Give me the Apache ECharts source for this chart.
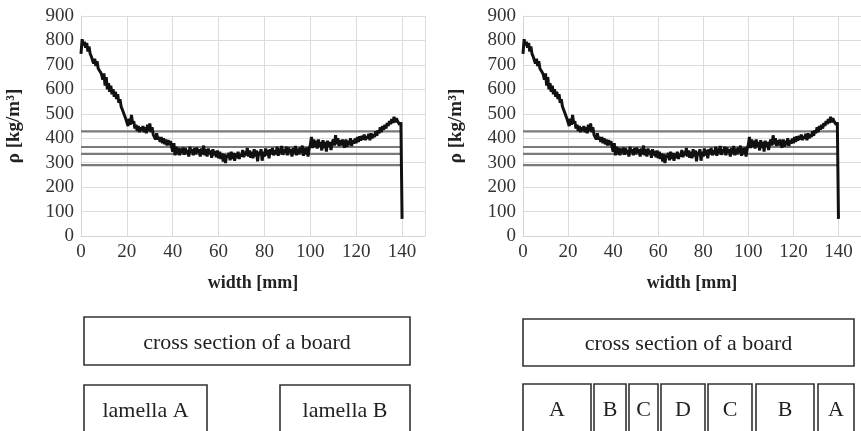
<!DOCTYPE html>
<html>

<head>
	<meta charset="UTF-8" />
	<title>Density profile of a board</title>
	<style>
		html, body { margin: 0; padding: 0; background: #fff; }
		#chart { width: 861px; height: 431px; }
	</style>
	<script type="text/javascript" src="https://cdn.jsdelivr.net/npm/echarts@6/dist/echarts.min.js"></script>
</head>

<body>
	<div id="chart"></div>

	<script>
		// x step of the scan, mm
		var widthStep = 0.5;

		// density along the width, kg/m3, one value every 0.5 mm (0 .. 139.5)
		var density = [
			745, 805, 780, 795, 770, 790, 755, 775, 745, 735,
			730, 705, 725, 695, 715, 685, 690, 670, 660, 640,
			665, 615, 650, 600, 625, 590, 615, 580, 600, 570,
			590, 560, 580, 545, 560, 530, 535, 505, 510, 480,
			465, 450, 480, 455, 495, 460, 470, 440, 455, 430,
			450, 425, 445, 430, 450, 425, 445, 420, 455, 430,
			460, 425, 445, 415, 420, 395, 420, 395, 405, 385,
			405, 380, 400, 375, 395, 370, 392, 372, 388, 365,
			345, 380, 330, 365, 335, 360, 330, 358, 340, 362,
			332, 360, 338, 352, 325, 365, 340, 355, 330, 360,
			335, 362, 340, 355, 325, 358, 335, 370, 330, 355,
			325, 358, 335, 350, 320, 355, 330, 348, 322, 350,
			318, 345, 315, 338, 305, 335, 298, 330, 320, 340,
			310, 345, 315, 340, 308, 338, 318, 345, 315, 335,
			325, 352, 322, 345, 330, 360, 325, 350, 320, 345,
			318, 355, 325, 350, 305, 345, 330, 355, 308, 345,
			325, 358, 330, 352, 318, 355, 335, 360, 330, 350,
			335, 365, 328, 358, 338, 368, 332, 355, 340, 365,
			330, 362, 340, 355, 325, 360, 338, 368, 330, 358,
			335, 362, 340, 370, 328, 360, 335, 362, 325, 358,
			372, 405, 360, 395, 365, 390, 358, 395, 365, 385,
			350, 392, 360, 385, 345, 390, 365, 385, 352, 380,
			395, 370, 412, 375, 400, 368, 392, 370, 395, 372,
			362, 395, 365, 390, 372, 400, 368, 392, 378, 398,
			380, 405, 385, 408, 390, 410, 395, 415, 392, 408,
			398, 418, 392, 420, 400, 415, 405, 428, 410, 432,
			420, 445, 425, 450, 435, 455, 440, 462, 450, 470,
			458, 478, 462, 488, 465, 482, 470, 478, 455, 465
		];
		// last reading at the board edge
		var edgeWidth = 140;
		var edgeDensity = 70;

		// horizontal density levels, kg/m3
		var levels = [428, 364, 336, 290];
		var levelStart = 0;
		var levelEnd = 139.5;

		var xTicks = [0, 20, 40, 60, 80, 100, 120, 140];
		var xName = "width [mm]";
		var yName = "ρ [kg/m³]";

		var boardLabel = "cross section of a board";
		var lamellaeLeft = ["lamella A", "lamella B"];
		var lamellaeRight = ["A", "B", "C", "D", "C", "B", "A"];

		var curve = density.map(function (v, i) {
			return [i * widthStep, v];
		});
		curve.push([edgeWidth, edgeDensity]);

		var serif = "'Liberation Serif', 'Times New Roman', serif";
		var chart = echarts.init(document.getElementById("chart"));

		function makeX(idx) {
			return {
				type: "value",
				gridIndex: idx,
				min: 0,
				max: 150,
				interval: xTicks[1] - xTicks[0],
				name: xName,
				nameLocation: "middle",
				nameGap: 38,
				nameTextStyle: { fontFamily: serif, fontWeight: "bold", fontSize: 18, color: "#222" },
				axisLine: { lineStyle: { color: "#d4d4d4" } },
				axisTick: { show: false },
				axisLabel: { fontFamily: serif, fontSize: 19, color: "#333", margin: 7, showMaxLabel: false },
				splitLine: { lineStyle: { color: "#dcdcdc" } }
			};
		}

		function makeY(idx) {
			return {
				type: "value",
				gridIndex: idx,
				min: 0,
				max: 900,
				interval: 100,
				name: yName,
				nameLocation: "middle",
				nameGap: 57,
				nameTextStyle: { fontFamily: serif, fontWeight: "bold", fontSize: 19, color: "#222" },
				axisLine: { show: true, lineStyle: { color: "#d4d4d4" } },
				axisTick: { show: false },
				axisLabel: { fontFamily: serif, fontSize: 19, color: "#333", margin: 7 },
				splitLine: { lineStyle: { color: "#dcdcdc" } }
			};
		}

		var series = [];
		[0, 1].forEach(function (g) {
			levels.forEach(function (lv) {
				series.push({
					type: "line",
					xAxisIndex: g,
					yAxisIndex: g,
					data: [[levelStart, lv], [levelEnd, lv]],
					showSymbol: false,
					silent: true,
					lineStyle: { color: "#7a7a7a", width: 2.2 },
					z: 2
				});
			});
			series.push({
				type: "line",
				xAxisIndex: g,
				yAxisIndex: g,
				data: curve,
				showSymbol: false,
				silent: true,
				lineStyle: { color: "#111", width: 3 },
				z: 3
			});
		});

		// boxes below the charts
		var graphics = [];
		function box(x, y, w, h, label, size) {
			graphics.push({
				type: "rect",
				shape: { x: x, y: y, width: w, height: h },
				style: { fill: "#fff", stroke: "#333", lineWidth: 1.6 }
			});
			graphics.push({
				type: "text",
				x: x + w / 2,
				y: y + Math.min(h, 48) / 2 + 2,
				style: {
					text: label,
					font: size + "px " + serif,
					fill: "#222",
					align: "center",
					verticalAlign: "middle"
				}
			});
		}

		box(84, 317, 326, 48, boardLabel, 22);
		box(84, 385, 123, 60, lamellaeLeft[0], 22);
		box(280, 385, 130, 60, lamellaeLeft[1], 22);

		box(523, 319, 331, 47, boardLabel, 22);
		var rightEdges = [[523, 591], [594, 626], [629, 658], [661, 705], [708, 752], [756, 814], [818, 854]];
		lamellaeRight.forEach(function (t, i) {
			box(rightEdges[i][0], 384, rightEdges[i][1] - rightEdges[i][0], 60, t, 22);
		});

		chart.setOption({
			animation: false,
			backgroundColor: "#fff",
			grid: [
				{ left: 81, top: 16, width: 344, height: 220 },
				{ left: 523, top: 16, width: 345, height: 220 }
			],
			xAxis: [makeX(0), makeX(1)],
			yAxis: [makeY(0), makeY(1)],
			series: series,
			graphic: graphics
		});
	</script>
</body>

</html>
